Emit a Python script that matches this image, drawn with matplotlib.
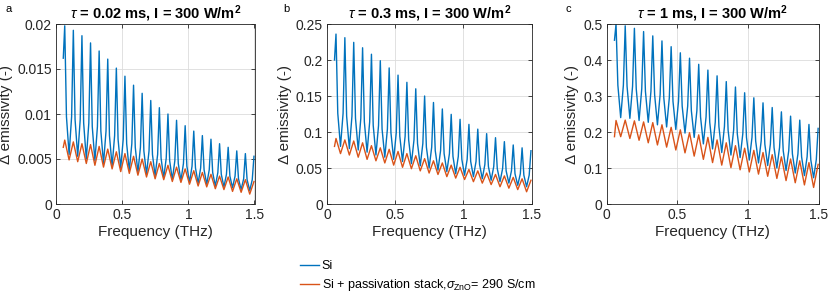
import matplotlib
matplotlib.use("Agg")
import matplotlib.pyplot as plt

plt.rcParams['font.family'] = ['Liberation Sans', 'DejaVu Sans']
plt.rcParams['mathtext.fontset'] = 'custom'
plt.rcParams['mathtext.rm'] = 'Liberation Sans'
plt.rcParams['mathtext.it'] = 'Liberation Sans:italic'
plt.rcParams['mathtext.bf'] = 'Liberation Sans:bold'

# ---------------- data ----------------
f_start = 0.055
f_peak = [0.066, 0.131, 0.196, 0.261, 0.326, 0.391, 0.456, 0.521, 0.586, 0.651, 0.716, 0.781,
          0.846, 0.911, 0.976, 1.041, 1.106, 1.171, 1.236, 1.301, 1.366, 1.431, 1.496]
f_trough = [0.099, 0.164, 0.229, 0.294, 0.359, 0.424, 0.489, 0.554, 0.619, 0.684, 0.749,
            0.814, 0.879, 0.944, 1.009, 1.074, 1.139, 1.204, 1.269, 1.334, 1.399, 1.464]
f_sh_left = [0.079, 0.144, 0.209, 0.274, 0.339, 0.404, 0.469, 0.534, 0.599, 0.664, 0.729,
             0.794, 0.859, 0.924, 0.989, 1.054, 1.119, 1.184, 1.249, 1.314, 1.379, 1.444]
f_sh_right = [0.118, 0.183, 0.248, 0.313, 0.378, 0.443, 0.508, 0.573, 0.638, 0.703, 0.768,
              0.833, 0.898, 0.963, 1.028, 1.093, 1.158, 1.223, 1.288, 1.353, 1.418, 1.483]

# panel a
si_start_a = 0.0162
si_peak_a = [0.0198, 0.0193, 0.0187, 0.0179, 0.0170, 0.0161, 0.0151, 0.0142, 0.0132, 0.0123, 0.0115, 0.0107,
             0.0100, 0.0093, 0.0087, 0.0081, 0.0076, 0.0072, 0.0067, 0.0063, 0.0059, 0.0056, 0.0053]
si_shoulder_a = [0.0097, 0.0094, 0.0090, 0.0086, 0.0081, 0.0076, 0.0072, 0.0067, 0.0063, 0.0059, 0.0055,
                 0.0051, 0.0048, 0.0045, 0.0042, 0.0040, 0.0038, 0.0035, 0.0033, 0.0031, 0.0028, 0.0027]
si_trough_a = [0.0055, 0.0053, 0.0050, 0.0048, 0.0045, 0.0042, 0.0040, 0.0037, 0.0035, 0.0033, 0.0031,
               0.0029, 0.0027, 0.0026, 0.0024, 0.0023, 0.0022, 0.0020, 0.0019, 0.0018, 0.0016, 0.0015]
ps_start_a = 0.0063
ps_peak_a = [0.0071, 0.0069, 0.0067, 0.0066, 0.0064, 0.0061, 0.0058, 0.0056, 0.0053, 0.0050, 0.0047, 0.0045,
             0.0043, 0.0041, 0.0039, 0.0037, 0.0035, 0.0033, 0.0031, 0.0030, 0.0028, 0.0027, 0.0025]
ps_trough_a = [0.0049, 0.0047, 0.0045, 0.0043, 0.0041, 0.0039, 0.0036, 0.0034, 0.0032, 0.0030, 0.0028,
               0.0027, 0.0025, 0.0024, 0.0022, 0.0020, 0.0019, 0.0017, 0.0016, 0.0014, 0.0013, 0.0011]

# panel b
si_start_b = 0.200
si_peak_b = [0.236, 0.231, 0.2245, 0.217, 0.208, 0.199, 0.189, 0.179, 0.169, 0.160, 0.150, 0.141,
             0.132, 0.1245, 0.1176, 0.1106, 0.104, 0.0977, 0.0921, 0.0866, 0.082, 0.078, 0.074]
si_shoulder_b = [0.126, 0.122, 0.119, 0.114, 0.109, 0.104, 0.099, 0.094, 0.089, 0.084, 0.079,
                 0.074, 0.070, 0.066, 0.062, 0.059, 0.055, 0.052, 0.049, 0.046, 0.042, 0.040]
si_trough_b = [0.080, 0.077, 0.075, 0.072, 0.068, 0.065, 0.062, 0.059, 0.056, 0.053, 0.050,
               0.047, 0.045, 0.042, 0.040, 0.038, 0.035, 0.033, 0.031, 0.029, 0.026, 0.024]
ps_start_b = 0.080
ps_peak_b = [0.091, 0.089, 0.0875, 0.085, 0.081, 0.078, 0.076, 0.073, 0.070, 0.067, 0.063, 0.060,
             0.057, 0.054, 0.051, 0.048, 0.046, 0.043, 0.041, 0.039, 0.037, 0.035, 0.033]
ps_trough_b = [0.070, 0.068, 0.065, 0.062, 0.060, 0.057, 0.054, 0.051, 0.049, 0.046, 0.043,
               0.041, 0.038, 0.036, 0.034, 0.031, 0.029, 0.027, 0.024, 0.022, 0.020, 0.017]

# panel c
si_start_c = 0.455
si_peak_c = [0.500, 0.495, 0.488, 0.479, 0.467, 0.453, 0.437, 0.420, 0.405, 0.388, 0.372, 0.356,
             0.340, 0.325, 0.309, 0.295, 0.281, 0.268, 0.256, 0.244, 0.233, 0.221, 0.210]
si_shoulder_c = [0.330, 0.327, 0.320, 0.313, 0.304, 0.295, 0.285, 0.272, 0.259, 0.242, 0.227,
                 0.215, 0.205, 0.195, 0.185, 0.175, 0.166, 0.157, 0.148, 0.139, 0.131, 0.123]
si_trough_c = [0.240, 0.238, 0.232, 0.227, 0.220, 0.214, 0.207, 0.197, 0.185, 0.167, 0.153,
               0.143, 0.136, 0.129, 0.122, 0.114, 0.107, 0.100, 0.093, 0.086, 0.079, 0.073]
ps_start_c = 0.187
ps_peak_c = [0.232, 0.233, 0.231, 0.228, 0.226, 0.220, 0.213, 0.206, 0.198, 0.192, 0.185, 0.178,
             0.170, 0.162, 0.155, 0.149, 0.143, 0.137, 0.131, 0.125, 0.120, 0.115, 0.110]
ps_trough_c = [0.187, 0.182, 0.177, 0.170, 0.164, 0.158, 0.150, 0.142, 0.133, 0.124, 0.115,
               0.108, 0.101, 0.095, 0.089, 0.083, 0.077, 0.071, 0.065, 0.059, 0.053, 0.046]

titles = [r"$\tau$ = 0.02 ms, I = 300 W/m$^{\mathbf{2}}$",
          r"$\tau$ = 0.3 ms, I = 300 W/m$^{\mathbf{2}}$",
          r"$\tau$ = 1 ms, I = 300 W/m$^{\mathbf{2}}$"]
letters = ["a", "b", "c"]
yticks = [[0, 0.005, 0.01, 0.015, 0.02],
          [0, 0.05, 0.1, 0.15, 0.2, 0.25],
          [0, 0.1, 0.2, 0.3, 0.4, 0.5]]
ytick_labels = [["0", "0.005", "0.01", "0.015", "0.02"],
                ["0", "0.05", "0.1", "0.15", "0.2", "0.25"],
                ["0", "0.1", "0.2", "0.3", "0.4", "0.5"]]
xticks = [0, 0.5, 1, 1.5]
xtick_labels = ["0", "0.5", "1", "1.5"]
label_si = "Si"
label_ps = r"Si + passivation stack,$\sigma_{\mathrm{ZnO}}$= 290 S/cm"

panels = [
    (si_start_a, si_peak_a, si_shoulder_a, si_trough_a, ps_start_a, ps_peak_a, ps_trough_a),
    (si_start_b, si_peak_b, si_shoulder_b, si_trough_b, ps_start_b, ps_peak_b, ps_trough_b),
    (si_start_c, si_peak_c, si_shoulder_c, si_trough_c, ps_start_c, ps_peak_c, ps_trough_c),
]


def build(start, peaks, troughs, shoulders=None):
    xs = [f_start]
    ys = [start]
    for i, (fp, vp) in enumerate(zip(f_peak, peaks)):
        xs.append(fp)
        ys.append(vp)
        if i < len(troughs):
            if shoulders is not None:
                xs += [f_sh_left[i], f_trough[i], f_sh_right[i]]
                ys += [shoulders[i], troughs[i], shoulders[i]]
            else:
                xs.append(f_trough[i])
                ys.append(troughs[i])
    return xs, ys


# ---------------- layout ----------------
W, H = 830, 296
fig = plt.figure(figsize=(W / 100, H / 100), dpi=100)
ax_px = [(56, 254.5), (327, 531.5), (606.7, 818.7)]
y_top, y_bot = 24, 204
letter_x = [5, 283, 566]

C_SI = '#0072BD'
C_PS = '#D95319'
AX_C = '#262626'

lines = []
for i, (x0, x1) in enumerate(ax_px):
    ax = fig.add_axes([x0 / W, (H - y_bot) / H, (x1 - x0) / W, (y_bot - y_top) / H])
    s0, sp, ssh, st, p0, pp, pt = panels[i]
    xs, ys = build(s0, sp, st, ssh)
    l1, = ax.plot(xs, ys, color=C_SI, lw=1.0)
    xs, ys = build(p0, pp, pt)
    l2, = ax.plot(xs, ys, color=C_PS, lw=1.0)
    lines = [l1, l2]
    ax.set_xlim(0, 1.5)
    ax.set_ylim(yticks[i][0], yticks[i][-1])
    ax.set_xticks(xticks)
    ax.set_xticklabels(xtick_labels)
    ax.set_yticks(yticks[i])
    ax.set_yticklabels(ytick_labels[i])
    ax.grid(True, color='#dcdcdc', lw=0.6)
    ax.set_axisbelow(True)
    ax.tick_params(direction='in', top=True, right=True, length=3, width=0.6,
                   labelsize=10, colors=AX_C, pad=3)
    for sp_ in ax.spines.values():
        sp_.set_color(AX_C)
        sp_.set_linewidth(0.6)
    ax.set_xlabel("Frequency (THz)", fontsize=11, color=AX_C, labelpad=2)
    ax.set_ylabel("Δ emissivity (-)", fontsize=11, color=AX_C, labelpad=3)
    ax.set_title(titles[i], fontsize=10.5, fontweight='bold', pad=4)
    fig.text(letter_x[i] / W, 1 - 9 / H, letters[i], fontsize=8, va='center', ha='left')

fig.legend(lines, [label_si, label_ps], loc='upper left',
           bbox_to_anchor=(300 / W, 1 - 260 / H), frameon=False, fontsize=9,
           handlelength=1.55, handletextpad=0.2, borderpad=0, borderaxespad=0,
           labelspacing=0.4)

fig.savefig("out.png", dpi=100)
